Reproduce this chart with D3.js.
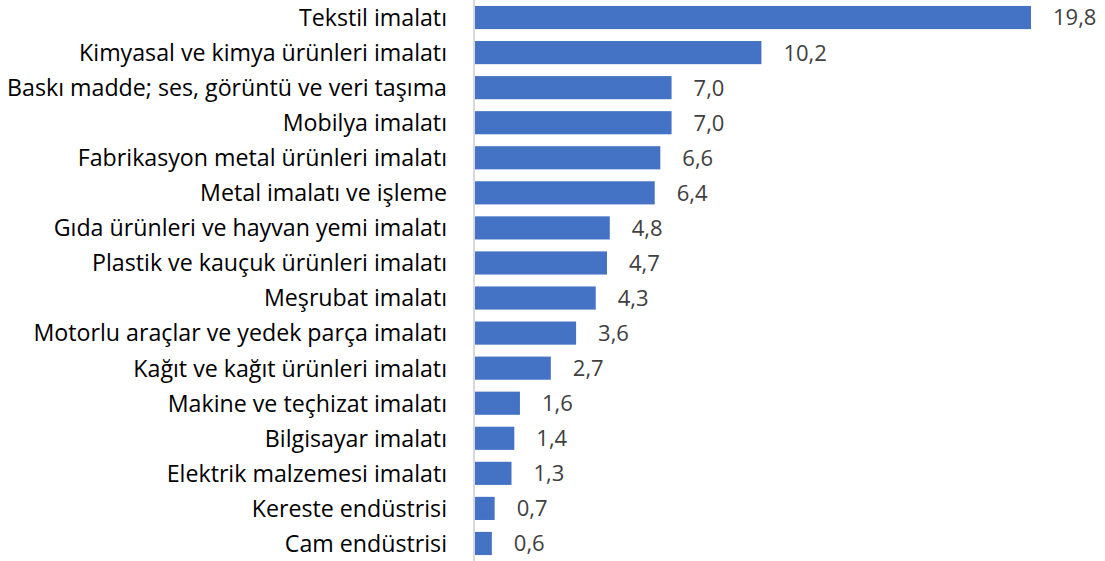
<!DOCTYPE html>
<html>
<head>
<meta charset="utf-8">
<script src="https://cdn.jsdelivr.net/npm/d3@7"></script>
<style>
  html, body { margin: 0; padding: 0; background: #fff; }
  svg { display: block; font-family: "Open Sans", sans-serif; }
</style>
</head>
<body>
<div id="chart"></div>
<script>
const categories = [
  'Tekstil imalatı',
  'Kimyasal ve kimya ürünleri imalatı',
  'Baskı madde; ses, görüntü ve veri taşıma',
  'Mobilya imalatı',
  'Fabrikasyon metal ürünleri imalatı',
  'Metal imalatı ve işleme',
  'Gıda ürünleri ve hayvan yemi imalatı',
  'Plastik ve kauçuk ürünleri imalatı',
  'Meşrubat imalatı',
  'Motorlu araçlar ve yedek parça imalatı',
  'Kağıt ve kağıt ürünleri imalatı',
  'Makine ve teçhizat imalatı',
  'Bilgisayar imalatı',
  'Elektrik malzemesi imalatı',
  'Kereste endüstrisi',
  'Cam endüstrisi'
];
const values = [19.8, 10.2, 7.0, 7.0, 6.6, 6.4, 4.8, 4.7, 4.3, 3.6, 2.7, 1.6, 1.4, 1.3, 0.7, 0.6];

const width = 1105, height = 561;
const x0 = 475;

const svg = d3.select('#chart').append('svg')
  .attr('width', width)
  .attr('height', height);

const x = d3.scaleLinear().domain([0, 19.8]).range([x0, 1031]);
const y = d3.scaleBand().domain(categories).range([0, height])
  .paddingInner(0.34).paddingOuter(0.17);

const fmt = v => d3.format('.1f')(v).replace('.', ',');

svg.selectAll('rect.bar')
  .data(values)
  .join('rect')
  .attr('class', 'bar')
  .attr('x', x(0))
  .attr('y', (d, i) => y(categories[i]))
  .attr('width', d => x(d) - x(0))
  .attr('height', y.bandwidth())
  .attr('fill', '#4472c4');

// category axis
svg.append('line')
  .attr('x1', x0 - 1).attr('x2', x0 - 1)
  .attr('y1', 0).attr('y2', height)
  .attr('stroke', '#d9d9d9')
  .attr('stroke-width', 2);

svg.selectAll('text.cat')
  .data(categories)
  .join('text')
  .attr('class', 'cat')
  .attr('x', 447)
  .attr('y', d => y(d) + y.bandwidth() / 2)
  .attr('dy', '0.36em')
  .attr('text-anchor', 'end')
  .attr('fill', '#000')
  .style('font-size', '23.2px')
  .text(d => d);

svg.selectAll('text.val')
  .data(values)
  .join('text')
  .attr('class', 'val')
  .attr('x', d => x(d) + 22)
  .attr('y', (d, i) => y(categories[i]) + y.bandwidth() / 2)
  .attr('dy', '0.36em')
  .attr('fill', '#404040')
  .style('font-size', '22px')
  .text(d => fmt(d));
</script>
</body>
</html>
